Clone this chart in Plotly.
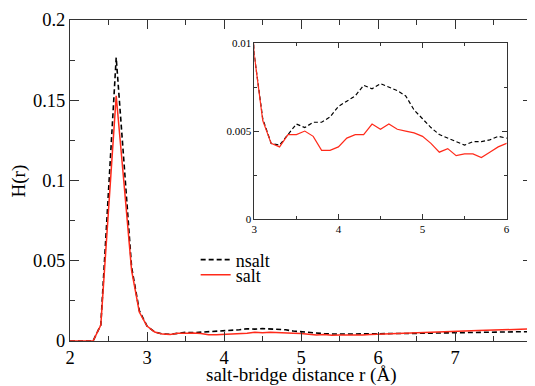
import plotly.graph_objects as go

r = [2.0, 2.1, 2.2, 2.3, 2.4, 2.5, 2.6, 2.7, 2.8, 2.9,
     3.0, 3.1, 3.2, 3.3, 3.4, 3.5, 3.6, 3.7, 3.8, 3.9,
     4.0, 4.1, 4.2, 4.3, 4.4, 4.5, 4.6, 4.7, 4.8, 4.9,
     5.0, 5.1, 5.2, 5.3, 5.4, 5.5, 5.6, 5.7, 5.8, 5.9,
     6.0, 6.1, 6.2, 6.3, 6.4, 6.5, 6.6, 6.7, 6.8, 6.9,
     7.0, 7.1, 7.2, 7.3, 7.4, 7.5, 7.6, 7.7, 7.8, 7.9, 8.0]

nsalt = [0, 0, 0, 0, 0.010, 0.094, 0.1766, 0.112, 0.046, 0.019,
         0.0093, 0.0057, 0.0043, 0.0042, 0.0048, 0.0054, 0.0052, 0.0055, 0.0055, 0.0058,
         0.0064, 0.0067, 0.0070, 0.0076, 0.0074, 0.0077, 0.0075, 0.0073, 0.0070, 0.0062,
         0.0057, 0.0052, 0.0048, 0.0046, 0.0044, 0.0042, 0.0044, 0.0044, 0.0045, 0.0047,
         0.0046, 0.0045, 0.0046, 0.0047, 0.0047, 0.0048, 0.0049, 0.0050, 0.0050, 0.0051,
         0.0052, 0.0053, 0.0053, 0.0054, 0.0055, 0.0055, 0.0056, 0.0056, 0.0057, 0.0058, 0.0058]

salt = [0, 0, 0, 0, 0.010, 0.083, 0.1528, 0.099, 0.044, 0.018,
        0.0093, 0.0056, 0.0043, 0.0041, 0.0048, 0.0048, 0.0050, 0.0047, 0.0039, 0.0039,
        0.0041, 0.0046, 0.0048, 0.0048, 0.0054, 0.0051, 0.0054, 0.0051, 0.0050, 0.0049,
        0.0047, 0.0043, 0.0038, 0.0040, 0.0036, 0.0037, 0.0037, 0.0035, 0.0038, 0.0041,
        0.0043, 0.0044, 0.0045, 0.0047, 0.0048, 0.0050, 0.0055, 0.0058, 0.0060, 0.0062,
        0.0064, 0.0065, 0.0066, 0.0066, 0.0067, 0.0068, 0.0069, 0.0070, 0.0071, 0.0073, 0.0075]

x_title = "salt-bridge distance r (Å)"
y_title = "H(r)"

FONT = "Times New Roman, Liberation Serif, Tinos, DejaVu Serif, serif"
AX = "#333333"
DASH = "5px,3px"

fig = go.Figure()
fig.add_trace(go.Scatter(x=r, y=nsalt, mode="lines", name="nsalt",
                         line=dict(color="black", width=1.6, dash=DASH),
                         xaxis="x", yaxis="y", legend="legend"))
fig.add_trace(go.Scatter(x=r, y=salt, mode="lines", name="salt",
                         line=dict(color="#ff2a1a", width=1.5),
                         xaxis="x", yaxis="y", legend="legend2"))
fig.add_trace(go.Scatter(x=r, y=nsalt, mode="lines", showlegend=False,
                         line=dict(color="black", width=1.2, dash="4px,2.5px"),
                         xaxis="x2", yaxis="y2"))
fig.add_trace(go.Scatter(x=r, y=salt, mode="lines", showlegend=False,
                         line=dict(color="#ff2a1a", width=1.2),
                         xaxis="x2", yaxis="y2"))

main_common = dict(showgrid=False, zeroline=False, showline=True, linecolor=AX,
                   linewidth=1, mirror="ticks", ticks="inside", ticklen=9,
                   tickcolor=AX, tickwidth=1, automargin=False,
                   ticklabeloverflow="allow",
                   tickfont=dict(family=FONT, size=18.5, color="black"))
inset_common = dict(showgrid=False, zeroline=False, showline=True, linecolor=AX,
                    linewidth=1, mirror="ticks", ticks="inside", ticklen=5,
                    tickcolor=AX, tickwidth=1, automargin=False,
                    tickfont=dict(family=FONT, size=11, color="black"))

# the page body adds an 8px offset, so the figure is 527x378
fig.update_layout(
    width=527, height=378,
    margin=dict(l=62, r=3, t=12, b=45),
    paper_bgcolor="white", plot_bgcolor="white",
    font=dict(family=FONT, size=19, color="black"),
    xaxis=dict(range=[2, 8], dtick=1, tick0=2,
               minor=dict(dtick=0.5, ticks="inside", ticklen=5, tickcolor=AX),
               **main_common),
    yaxis=dict(range=[0, 0.2], dtick=0.05, tick0=0,
               minor=dict(dtick=0.025, ticks="inside", ticklen=5, tickcolor=AX),
               **main_common),
    xaxis2=dict(domain=[0.399, 0.945], anchor="y2", range=[3, 6], dtick=1, tick0=3,
                minor=dict(dtick=0.5, ticks="inside", ticklen=3, tickcolor=AX),
                **inset_common),
    yaxis2=dict(domain=[0.380, 0.928], anchor="x2", range=[0, 0.01], dtick=0.005, tick0=0,
                minor=dict(dtick=0.0025, ticks="inside", ticklen=3, tickcolor=AX),
                **inset_common),
    legend=dict(x=0.272, y=0.2527, xanchor="left", yanchor="middle",
                bgcolor="rgba(0,0,0,0)", itemwidth=30,
                font=dict(family=FONT, size=18)),
    legend2=dict(x=0.272, y=0.2057, xanchor="left", yanchor="middle",
                 bgcolor="rgba(0,0,0,0)", itemwidth=30,
                 font=dict(family=FONT, size=18)),
    annotations=[
        dict(text=x_title, xref="paper", yref="paper", x=0.5, y=-0.106,
             xanchor="center", yanchor="middle", showarrow=False,
             font=dict(family=FONT, size=19, color="black")),
        dict(text=y_title, xref="paper", yref="paper", x=-0.1104, y=0.5,
             xanchor="center", yanchor="middle", showarrow=False, textangle=-90,
             font=dict(family=FONT, size=19, color="black")),
    ],
)

fig.write_html("out.html")
